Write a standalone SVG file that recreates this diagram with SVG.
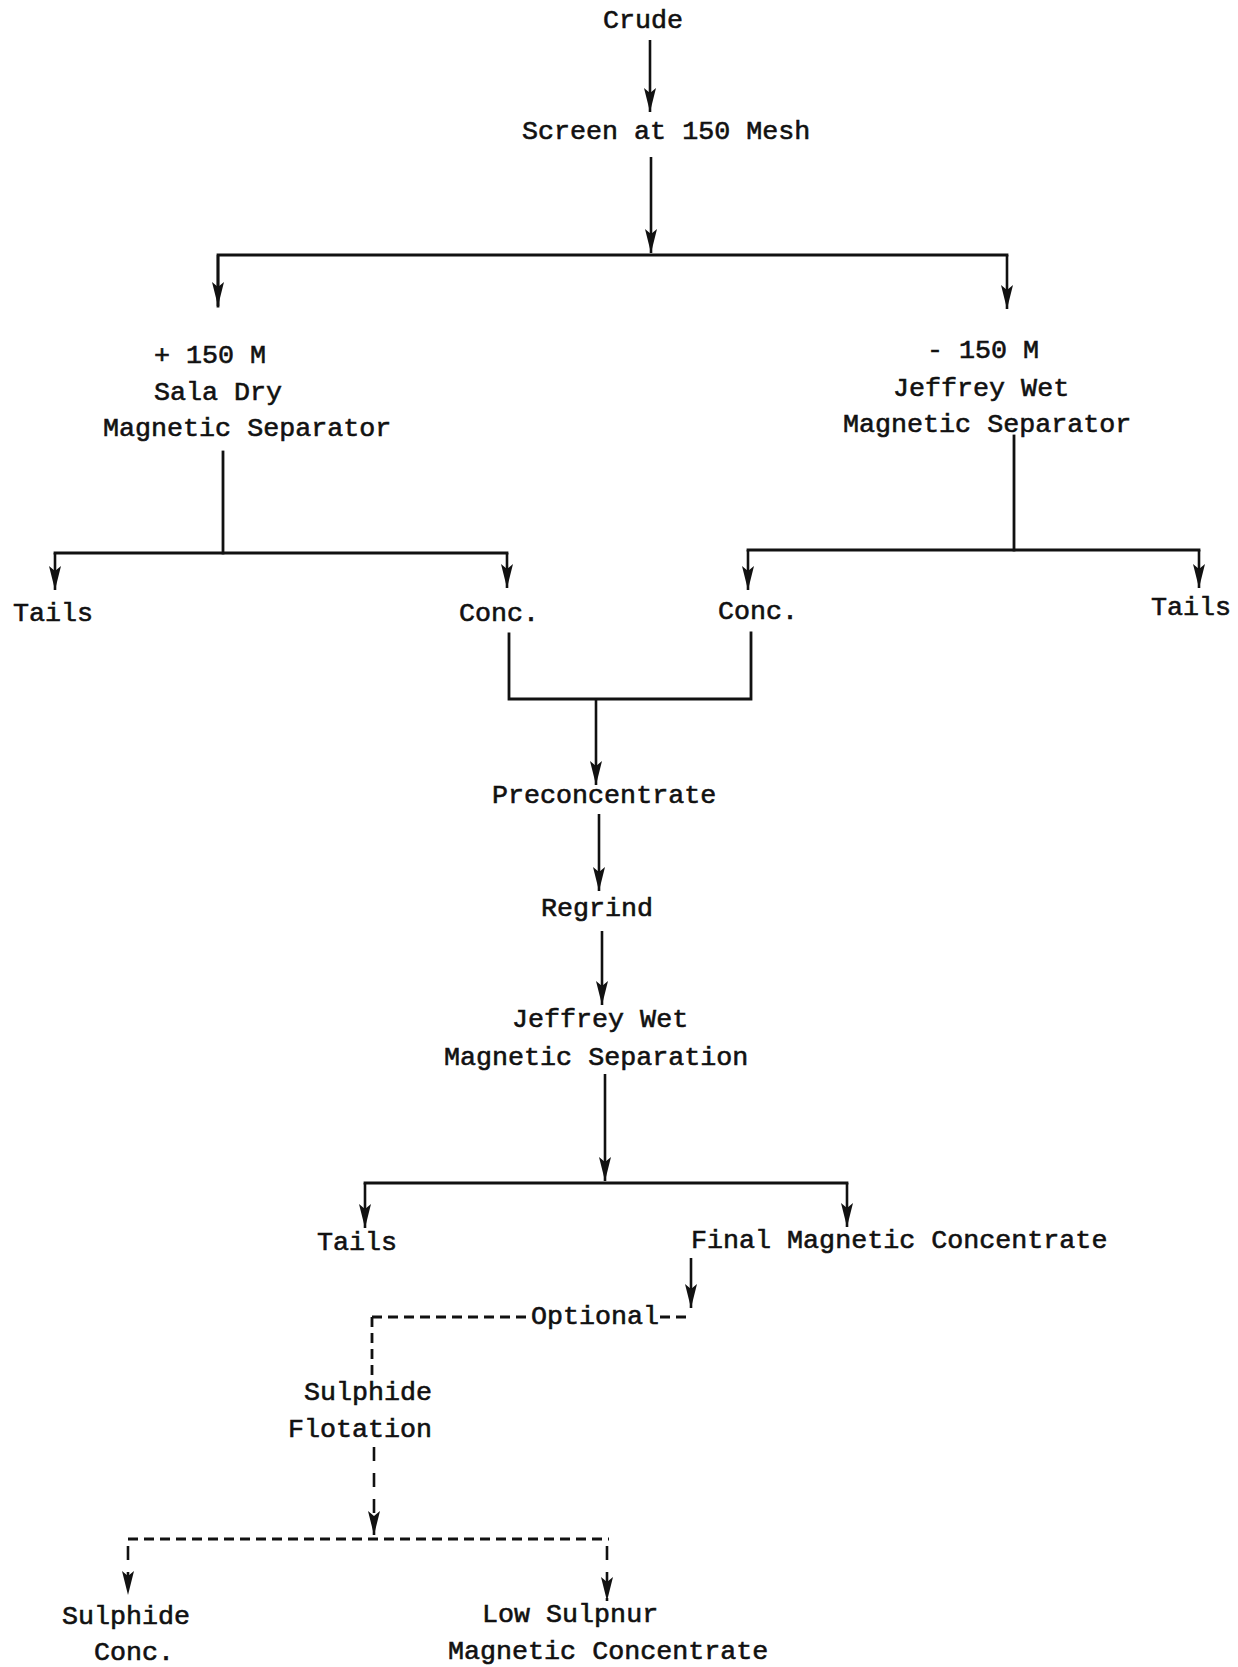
<svg xmlns="http://www.w3.org/2000/svg" width="1238" height="1667" viewBox="0 0 1238 1667">
<style>
text{font-family:"Liberation Mono","DejaVu Sans Mono",monospace;font-size:26.7px;fill:#111;stroke:#111;stroke-width:0.6;}
.ln{fill:none;stroke:#111;stroke-width:2.8;stroke-linecap:square;}
.ar{fill:none;stroke:#111;stroke-width:2.6;marker-end:url(#ah);}
.ds{fill:none;stroke:#111;stroke-width:2.8;stroke-dasharray:10 6;}
.dsa{fill:none;stroke:#111;stroke-width:2.6;stroke-dasharray:14 12;marker-end:url(#ah);}
</style>
<defs>
<marker id="ah" markerUnits="userSpaceOnUse" viewBox="0 -7 26 14" markerWidth="26" markerHeight="14" refX="24" refY="0" orient="auto">
<path d="M0,-6 L24,0 L0,6 L5,0 z" fill="#111"/>
</marker>
</defs>
<rect width="1238" height="1667" fill="#fff"/>
<g id="connectors">
<path class="ar" d="M650,40 V112"/>
<path class="ar" d="M651,157 V253"/>
<path class="ln" d="M218,306 V255 H1007"/>
<path class="ar" d="M218,255 V306"/>
<path class="ar" d="M1007,255 V309"/>
<path class="ln" d="M223,452 V553"/>
<path class="ln" d="M55,553 H507"/>
<path class="ar" d="M55,553 V590"/>
<path class="ar" d="M507,553 V588"/>
<path class="ln" d="M1014,436 V550"/>
<path class="ln" d="M748,550 H1199"/>
<path class="ar" d="M748,550 V590"/>
<path class="ar" d="M1199,550 V588"/>
<path class="ln" d="M509,634 V699 H751 V633"/>
<path class="ar" d="M596,699 V785"/>
<path class="ar" d="M599,814 V891"/>
<path class="ar" d="M602,931 V1005"/>
<path class="ar" d="M605,1074 V1181"/>
<path class="ln" d="M365,1183 H847"/>
<path class="ar" d="M365,1183 V1228"/>
<path class="ar" d="M847,1183 V1227"/>
<path class="ar" d="M691,1258 V1308"/>
<path class="ds" d="M372,1317 H528"/>
<path class="ds" d="M660,1317 H690"/>
<path class="ds" d="M372,1317 V1376"/>
<path class="dsa" d="M374,1447 V1535"/>
<path class="ds" d="M128,1539 H609"/>
<path class="dsa" d="M128,1546 V1595"/>
<path class="dsa" d="M607,1546 V1601"/>
</g>
<g id="crude"><text x="603" y="28">Crude</text></g>
<g id="screen"><text x="522" y="139">Screen at 150 Mesh</text></g>
<g id="sala"><text x="154" y="363">+ 150 M</text><text x="154" y="400">Sala Dry</text><text x="103" y="436">Magnetic Separator</text></g>
<g id="jeffrey1"><text x="927" y="358">- 150 M</text><text x="893" y="396">Jeffrey Wet</text><text x="843" y="432">Magnetic Separator</text></g>
<g id="tails1"><text x="13" y="621">Tails</text></g>
<g id="conc1"><text x="459" y="621">Conc.</text></g>
<g id="conc2"><text x="718" y="619">Conc.</text></g>
<g id="tails2"><text x="1151" y="615">Tails</text></g>
<g id="preconc"><text x="492" y="803">Preconcentrate</text></g>
<g id="regrind"><text x="541" y="916">Regrind</text></g>
<g id="jeffrey2"><text x="512" y="1027">Jeffrey Wet</text><text x="444" y="1065">Magnetic Separation</text></g>
<g id="tails3"><text x="317" y="1250">Tails</text></g>
<g id="final"><text x="691" y="1248">Final Magnetic Concentrate</text></g>
<g id="optional"><text x="531" y="1324">Optional</text></g>
<g id="flotation"><text x="304" y="1400">Sulphide</text><text x="288" y="1437">Flotation</text></g>
<g id="sulconc"><text x="62" y="1624">Sulphide</text><text x="94" y="1660">Conc.</text></g>
<g id="lowsul"><text x="482" y="1622">Low Sulpnur</text><text x="448" y="1659">Magnetic Concentrate</text></g>
</svg>
